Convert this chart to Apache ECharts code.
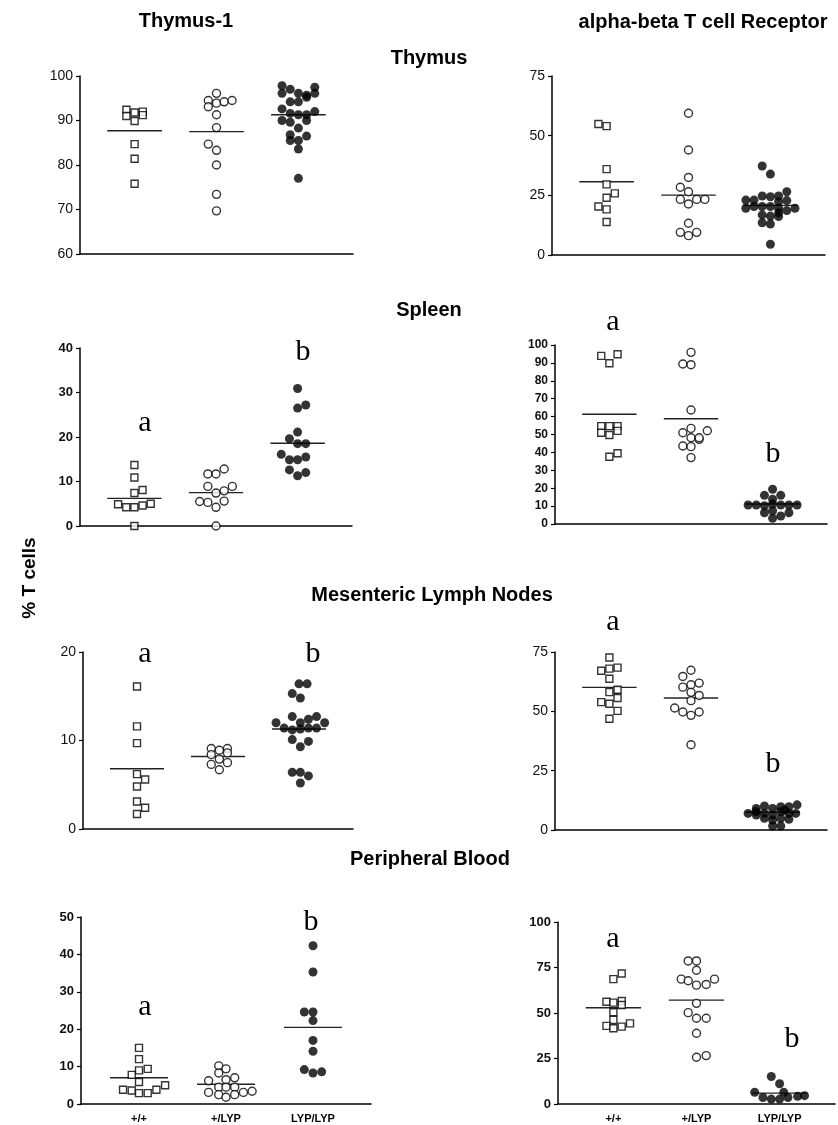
<!DOCTYPE html>
<html>
<head>
<meta charset="utf-8">
<script src="https://cdn.jsdelivr.net/npm/echarts/dist/echarts.min.js"></script>
<style>
  html, body { margin: 0; padding: 0; background: #fff; }
  #main { width: 838px; height: 1125px; }
</style>
</head>
<body>
<div id="main"></div>
<script>
// genotypes and where each column sits on the 0..10 x axis
const groups = ['+/+', '+/LYP', 'LYP/LYP'];
const centers = [2, 5, 8];

// points are [horizontal jitter, % T cells]

// Thymus-1 / Thymus
const thyThy_wt = [[-0.3,92.4],[-0.3,91.0],[0,91.8],[0.3,92.0],[0.3,91.2],[0,89.9],[0,84.7],[0,81.4],[0,75.8]];
const thyThy_het = [[0,96.1],[-0.3,94.5],[-0.3,93.1],[0,93.9],[0.28,94.2],[0.57,94.5],[0,91.3],[0,88.4],[-0.3,84.7],[0,83.3],[0,80.0],[0,73.4],[0,69.7]];
const thyThy_hom = [[-0.6,97.8],[-0.3,97.0],[0,96.1],[0.3,95.7],[0.6,97.5],[0.6,96.1],[-0.6,96.1],[0.3,95.2],[-0.3,94.2],[0,94.2],[-0.6,92.6],[0.6,92.0],[-0.3,91.6],[0,91.3],[0.3,91.3],[-0.6,90.0],[-0.3,89.6],[0.3,90.0],[0,88.3],[-0.3,86.8],[0.3,86.5],[-0.3,85.5],[0,85.5],[0,83.6],[0,77.0]];
const thyThy_means = [87.7, 87.5, 91.3];

// alpha-beta TCR / Thymus
const tcrThy_wt = [[-0.3,54.9],[0,54.0],[0,36.0],[0,29.6],[0,24.0],[0.3,25.8],[-0.3,20.3],[0,19.1],[0,13.8]];
const tcrThy_het = [[0,59.4],[0,44.0],[0,32.5],[-0.3,28.4],[0,26.5],[-0.3,23.3],[0,21.4],[0.3,23.3],[0.6,23.3],[0,13.3],[-0.3,9.5],[0,8.1],[0.3,9.5]];
const tcrThy_hom = [[-0.3,37.3],[0,33.9],[0.6,26.5],[-0.9,23.0],[-0.6,23.0],[-0.3,24.7],[0,24.4],[0.3,24.7],[0.3,22.3],[0.6,22.8],[-0.9,19.6],[-0.6,20.3],[-0.3,20.3],[0,20.3],[0.3,19.6],[0.9,19.6],[0.6,18.6],[-0.3,16.8],[0,16.3],[0.3,16.1],[0.3,17.7],[-0.3,13.5],[0,13.0],[0,4.5]];
const tcrThy_means = [30.7, 25.1, 20.8];

// Thymus-1 / Spleen
const thySpl_wt = [[0,13.7],[0,10.9],[0,7.4],[0.3,8.1],[-0.6,4.9],[-0.3,4.2],[0,4.2],[0.3,4.6],[0.6,5.0],[0,0]];
const thySpl_het = [[0.3,12.8],[-0.3,11.7],[0,11.7],[-0.3,8.9],[0.6,8.9],[0,7.4],[0.3,7.9],[-0.6,5.5],[-0.3,5.3],[0.3,5.6],[0,4.2],[0,0]];
const thySpl_hom = [[0,30.9],[0,26.5],[0.3,27.2],[0,21.1],[-0.3,19.6],[0,18.5],[0.3,18.5],[-0.6,16.1],[-0.3,14.9],[0,14.9],[0.3,15.5],[-0.3,12.6],[0,11.3],[0.3,12.0]];
const thySpl_means = [6.2, 7.5, 18.6];

// alpha-beta TCR / Spleen
const tcrSpl_wt = [[-0.3,93.9],[0,89.8],[0.3,94.8],[-0.3,54.7],[0,54.7],[0.3,54.7],[-0.3,51.0],[0,49.7],[0.3,52.0],[0,37.6],[0.3,39.5]];
const tcrSpl_het = [[0,95.9],[-0.3,89.4],[0,89.0],[0,63.7],[0,53.4],[-0.3,51.0],[0.6,52.1],[0,48.2],[0.3,47.3],[0.3,48.2],[-0.3,43.6],[0,43.2],[0,37.1]];
const tcrSpl_hom = [[0,19.4],[-0.3,16.0],[0.3,16.0],[0,13.8],[-0.9,10.6],[-0.6,10.6],[-0.3,10.2],[0,11.2],[0.3,10.6],[0.6,10.6],[0.9,10.6],[-0.3,6.3],[0,7.4],[0.6,6.3],[0,3.2],[0.3,4.5]];
const tcrSpl_means = [61.3, 58.8, 11.2];

// Thymus-1 / Mesenteric Lymph Nodes
const thyMln_wt = [[0,16.1],[0,11.6],[0,9.7],[0,6.2],[0.3,5.6],[0,4.8],[0,3.1],[0.3,2.4],[0,1.7]];
const thyMln_het = [[-0.25,9.1],[0.05,8.9],[0.35,9.1],[0.35,8.6],[-0.25,8.4],[0.05,7.9],[-0.25,7.3],[0.35,7.5],[0.05,6.7]];
const thyMln_hom = [[0,16.4],[0.3,16.4],[-0.25,15.3],[0.05,14.8],[-0.85,12.0],[-0.25,12.7],[0.05,12.0],[0.35,12.4],[0.65,12.7],[0.95,12.0],[-0.55,11.4],[-0.25,11.2],[0.05,11.3],[0.35,11.4],[0.65,11.4],[-0.25,10.1],[0.35,9.9],[0.05,9.3],[-0.25,6.4],[0.05,6.4],[0.35,6.0],[0.05,5.2]];
const thyMln_means = [6.8, 8.2, 11.3];

// alpha-beta TCR / Mesenteric Lymph Nodes
const tcrMln_wt = [[0,72.7],[-0.3,67.1],[0,68.0],[0.3,68.4],[0,63.7],[0,58.1],[0.3,59.1],[0.3,55.6],[-0.3,53.9],[0,53.2],[0.3,50.2],[0,46.9]];
const tcrMln_het = [[0,67.3],[-0.3,64.7],[0,61.2],[0.3,61.9],[-0.3,60.2],[0,58.0],[0.3,56.7],[0,54.5],[-0.6,51.4],[-0.3,49.7],[0,48.3],[0.3,49.7],[0,35.9]];
const tcrMln_hom = [[-0.9,7.0],[-0.6,9.1],[-0.3,10.1],[0,9.1],[0.3,9.8],[0.6,9.8],[0.9,10.6],[-0.6,6.3],[-0.3,7.0],[0,6.3],[0.3,7.7],[0.6,7.0],[0.85,7.0],[-0.3,4.9],[0,4.2],[0.3,4.9],[0.6,4.5],[0,1.7],[0.3,1.7],[-0.6,7.7],[0.45,8.4]];
const tcrMln_means = [60.1, 55.6, 7.5];

// Thymus-1 / Peripheral Blood
const thyPb_wt = [[0,15.0],[0,12.0],[0,9.0],[0.3,9.4],[-0.25,7.8],[0,5.9],[-0.55,3.8],[-0.25,3.6],[0,2.9],[0.3,2.9],[0.6,3.8],[0.9,5.0]];
const thyPb_het = [[-0.25,10.2],[0,9.4],[-0.25,8.3],[-0.6,6.2],[0,6.5],[0.3,7.0],[-0.25,4.5],[0,4.5],[0.3,4.5],[-0.6,3.1],[-0.25,2.5],[0,1.8],[0.3,2.5],[0.6,3.1],[0.9,3.4]];
const thyPb_hom = [[0,42.3],[0,35.3],[-0.3,24.6],[0,24.6],[0,22.3],[0,17.0],[0,14.1],[-0.3,9.2],[0,8.3],[0.3,8.6]];
const thyPb_means = [7.0, 5.3, 20.5];

// alpha-beta TCR / Peripheral Blood
const tcrPb_wt = [[0,68.6],[0.3,71.7],[-0.25,56.2],[0,55.7],[0.3,56.6],[0.3,54.4],[0,50.4],[0,46.2],[-0.25,42.9],[0,41.6],[0.3,42.5],[0.6,44.3]];
const tcrPb_het = [[-0.3,78.6],[0,78.6],[0,73.5],[-0.55,68.6],[-0.3,67.7],[0,65.3],[0.35,65.7],[0.65,68.6],[0,55.3],[-0.3,50.2],[0,47.1],[0.35,47.1],[0,38.9],[0.35,26.6],[0,25.7]];
const tcrPb_hom = [[-0.3,15.1],[0,11.1],[-0.9,6.4],[-0.6,3.6],[-0.3,2.7],[0,2.7],[0.3,3.6],[0.65,4.2],[0.9,4.6],[0.15,6.4]];
const tcrPb_means = [52.9, 57.1, 6.0];

// panel layout (pixels) + axis ranges
const panels = [
    { pts: [thyThy_wt, thyThy_het, thyThy_hom], means: thyThy_means, grid: [80, 76, 273, 178], y: [60, 100, 10], bold: false, cats: false },
    { pts: [tcrThy_wt, tcrThy_het, tcrThy_hom], means: tcrThy_means, grid: [552, 76, 273, 179], y: [0, 75, 25], bold: false, cats: false },
    { pts: [thySpl_wt, thySpl_het, thySpl_hom], means: thySpl_means, grid: [80, 348, 272, 178], y: [0, 40, 10], bold: true, cats: false },
    { pts: [tcrSpl_wt, tcrSpl_het, tcrSpl_hom], means: tcrSpl_means, grid: [555, 345, 272, 179], y: [0, 100, 10], bold: true, cats: false },
    { pts: [thyMln_wt, thyMln_het, thyMln_hom], means: thyMln_means, grid: [83, 652, 270, 177], y: [0, 20, 10], bold: false, cats: false },
    { pts: [tcrMln_wt, tcrMln_het, tcrMln_hom], means: tcrMln_means, grid: [555, 652, 272, 178], y: [0, 75, 25], bold: false, cats: false },
    { pts: [thyPb_wt, thyPb_het, thyPb_hom], means: thyPb_means, grid: [81, 917, 290, 187], y: [0, 50, 10], bold: true, cats: true },
    { pts: [tcrPb_wt, tcrPb_het, tcrPb_hom], means: tcrPb_means, grid: [558, 922, 279, 182], y: [0, 100, 25], bold: true, cats: true }
];

const FONT = '"Liberation Sans", Arial, sans-serif';
const NARROW = '"Liberation Sans Narrow", "Liberation Sans", Arial, sans-serif';
const SERIF = '"Liberation Serif", "Times New Roman", serif';

// marker styles: open square, open circle, filled circle
const markers = [
    { symbol: 'rect', size: 7, itemStyle: { color: '#fff', borderColor: '#000', borderWidth: 1.4 } },
    { symbol: 'circle', size: 8, itemStyle: { color: '#fff', borderColor: '#000', borderWidth: 1.4 } },
    { symbol: 'circle', size: 9, itemStyle: { color: '#000', borderColor: '#000', borderWidth: 0 } }
];

const grids = [], xAxes = [], yAxes = [], series = [];

panels.forEach((p, i) => {
    grids.push({ left: p.grid[0], top: p.grid[1], width: p.grid[2], height: p.grid[3] });
    xAxes.push({
        type: 'value', gridIndex: i, min: 0, max: 10, interval: 1,
        axisLine: { show: true, onZero: false, lineStyle: { color: '#000', width: 1.5 } },
        axisTick: { show: false },
        splitLine: { show: false },
        axisLabel: {
            show: p.cats,
            margin: 9,
            color: '#000',
            fontFamily: FONT,
            fontWeight: 'bold',
            fontSize: 11,
            formatter: v => {
                const k = centers.indexOf(v);
                return k >= 0 ? groups[k] : '';
            }
        }
    });
    yAxes.push({
        type: 'value', gridIndex: i, min: p.y[0], max: p.y[1], interval: p.y[2],
        axisLine: { show: true, lineStyle: { color: '#000', width: 1.5 } },
        axisTick: { show: true, length: 4, lineStyle: { color: '#000', width: 1.2 } },
        splitLine: { show: false },
        axisLabel: {
            margin: 7,
            color: '#111',
            fontFamily: p.bold ? FONT : NARROW,
            fontWeight: p.bold ? 'bold' : 'normal',
            fontSize: p.bold ? (p.y[2] === 10 && p.y[1] === 100 ? 12 : 13) : 14
        }
    });

    p.pts.forEach((pts, g) => {
        // mean bar
        series.push({
            type: 'line', xAxisIndex: i, yAxisIndex: i, z: 1,
            symbol: 'none', silent: true,
            lineStyle: { color: '#222', width: 1.4 },
            data: [[centers[g] - 1, p.means[g]], [centers[g] + 1, p.means[g]]]
        });
        series.push({
            type: 'scatter', xAxisIndex: i, yAxisIndex: i, z: 3,
            symbol: markers[g].symbol,
            symbolSize: markers[g].size,
            itemStyle: markers[g].itemStyle,
            data: pts.map(d => [centers[g] + d[0], d[1]])
        });
    });
});

// titles, row headings and significance letters
function txt(str, x, y, font, extra) {
    return Object.assign({
        type: 'text', x: x, y: y,
        style: { text: str, font: font, fill: '#000', textAlign: 'center', textVerticalAlign: 'middle' }
    }, extra || {});
}

const headBold = 'bold 20px ' + FONT;
const letter = '30px ' + SERIF;

const graphics = [
    txt('Thymus-1', 186, 21, headBold),
    txt('alpha-beta T cell Receptor', 703, 22, headBold),
    txt('Thymus', 429, 58, headBold),
    txt('Spleen', 429, 310, headBold),
    txt('Mesenteric Lymph Nodes', 432, 595, headBold),
    txt('Peripheral Blood', 430, 859, headBold),
    txt('% T cells', 30, 578, 'bold 19px ' + FONT, { rotation: Math.PI / 2 }),
    // spleen
    txt('a', 145, 423, letter), txt('b', 303, 352, letter),
    txt('a', 613, 322, letter), txt('b', 773, 454, letter),
    // MLN
    txt('a', 145, 654, letter), txt('b', 313, 654, letter),
    txt('a', 613, 622, letter), txt('b', 773, 764, letter),
    // PB
    txt('a', 145, 1007, letter), txt('b', 311, 922, letter),
    txt('a', 613, 939, letter), txt('b', 792, 1039, letter)
];

const chart = echarts.init(document.getElementById('main'), null, { renderer: 'canvas' });
chart.setOption({
    backgroundColor: '#fff',
    animation: false,
    grid: grids,
    xAxis: xAxes,
    yAxis: yAxes,
    series: series,
    graphic: graphics
});
</script>
</body>
</html>
